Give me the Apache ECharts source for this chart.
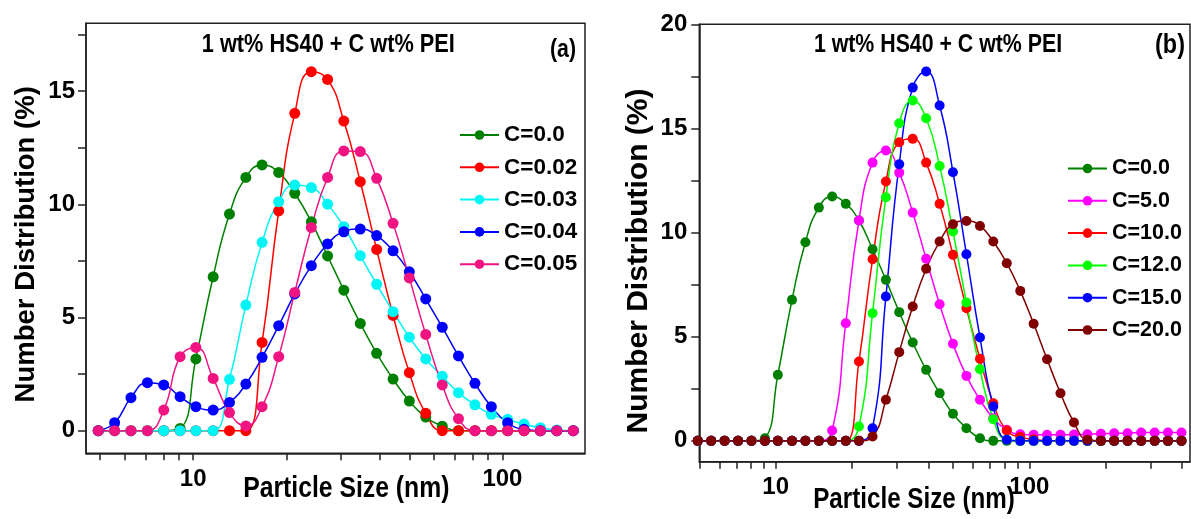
<!DOCTYPE html>
<html><head><meta charset="utf-8">
<script src="https://cdn.jsdelivr.net/npm/echarts@6/dist/echarts.min.js"></script>
<style>html,body{margin:0;padding:0;background:#fff}#c{width:1191px;height:519px}</style>
</head><body><div id="c"></div>
<script>
// Particle size bins (nm)
const sizeBins = [4.93, 5.57, 6.29, 7.11, 8.03, 9.07, 10.2, 11.6, 13.1, 14.8, 16.7, 18.9, 21.3, 24.1, 27.2, 30.7, 34.7, 39.2, 44.3, 50.0, 56.5, 63.9, 72.1, 81.5, 92.1, 104, 117.5, 132.7, 150, 169.5, 191.5, 216, 244, 276, 312, 352, 398];

// Panel (a)
const namesA = ['C=0.0', 'C=0.02', 'C=0.03', 'C=0.04', 'C=0.05'];
const a_C000 = [0, 0, 0, 0, 0, 0.1, 3.17, 6.8, 9.57, 11.19, 11.74, 11.41, 10.49, 9.23, 7.72, 6.21, 4.74, 3.42, 2.28, 1.31, 0.6, 0.2, 0, 0, 0, 0, 0, 0, 0, 0];
const a_C002 = [0, 0, 0, 0, 0, 0, 0, 0, 0, 0, 3.9, 9.71, 14.02, 15.86, 15.52, 13.68, 11.0, 8.01, 5.09, 2.56, 0.77, 0, 0, 0, 0, 0, 0, 0, 0, 0];
const a_C003 = [0, 0, 0, 0, 0, 0, 0, 0, 2.27, 5.55, 8.32, 10.12, 10.85, 10.74, 10.01, 9.01, 7.73, 6.47, 5.26, 4.13, 3.17, 2.4, 1.68, 1.14, 0.72, 0.5, 0.29, 0.13, 0.03, 0];
const a_C004 = [0, 0.35, 1.46, 2.12, 2.02, 1.5, 1.06, 0.91, 1.25, 2.06, 3.24, 4.64, 6.04, 7.29, 8.25, 8.79, 8.91, 8.62, 7.95, 7.02, 5.82, 4.57, 3.3, 2.09, 1.06, 0.35, 0.06, 0, 0, 0];
const a_C005 = [0, 0, 0, 0, 0.91, 3.27, 3.68, 2.31, 0.8, 0.21, 1.06, 3.27, 6.11, 8.98, 11.19, 12.36, 12.33, 11.15, 9.16, 6.75, 4.25, 2.02, 0.53, 0, 0, 0, 0, 0, 0, 0];
const colorsA = ['#008000', '#ff0000', '#00f5f5', '#0000ff', '#f01482'];

// Panel (b)
const namesB = ['C=0.0', 'C=5.0', 'C=10.0', 'C=12.0', 'C=15.0', 'C=20.0'];
const b_C00 = [0, 0, 0, 0, 0, 0.13, 3.17, 6.77, 9.54, 11.2, 11.73, 11.38, 10.58, 9.2, 7.73, 6.18, 4.72, 3.41, 2.29, 1.3, 0.61, 0.13, 0, 0, 0, 0, 0, 0, 0, 0, 0, 0, 0, 0, 0, 0, 0];
const b_C05 = [0, 0, 0, 0, 0, 0, 0, 0, 0, 0, 0.5, 5.65, 10.58, 13.36, 13.94, 12.88, 10.96, 8.74, 6.56, 4.66, 3.12, 1.97, 1.09, 0.53, 0.32, 0.29, 0.29, 0.29, 0.3, 0.32, 0.34, 0.37, 0.37, 0.4, 0.4, 0.4, 0.4];
const b_C10 = [0, 0, 0, 0, 0, 0, 0, 0, 0, 0, 0, 0, 3.81, 8.72, 12.45, 14.34, 14.5, 13.36, 11.38, 8.93, 6.37, 3.94, 1.81, 0.5, 0.18, 0.08, 0, 0, 0, 0, 0, 0, 0, 0, 0, 0, 0];
const b_C12 = [0, 0, 0, 0, 0, 0, 0, 0, 0, 0, 0, 0, 0.69, 6.13, 11.7, 15.25, 16.34, 15.49, 13.2, 10.05, 6.64, 3.44, 1.04, 0.05, 0, 0, 0, 0, 0, 0, 0, 0, 0, 0, 0, 0, 0];
const b_C15 = [0, 0, 0, 0, 0, 0, 0, 0, 0, 0, 0, 0, 0, 0.61, 6.93, 13.28, 16.96, 17.73, 16.1, 12.9, 8.96, 4.96, 1.65, 0.05, 0, 0, 0, 0, 0, 0, 0, 0, 0, 0, 0, 0, 0];
const b_C20 = [0, 0, 0, 0, 0, 0, 0, 0, 0, 0, 0, 0, 0, 0.21, 1.97, 4.26, 6.45, 8.26, 9.57, 10.4, 10.56, 10.32, 9.57, 8.53, 7.2, 5.62, 3.92, 2.29, 0.88, 0.05, 0, 0, 0, 0, 0, 0, 0];
const colorsB = ['#008000', '#ff00ff', '#ff0000', '#00ff00', '#0000ff', '#800000'];

// Axis ticks and labels
const aXTicks = [5, 6, 7, 8, 9, 10, 20, 30, 40, 50, 60, 70, 80, 90, 100];
const bXTicks = [5, 6, 7, 8, 9, 10, 20, 30, 40, 50, 60, 70, 80, 90, 100, 200, 300, 400];
const xLabels = [10, 100];
const aYTicks = [0, 2.5, 5, 7.5, 10, 12.5, 15, 17.5];
const aYLabels = [0, 5, 10, 15];
const bYTicks = [0, 2.5, 5, 7.5, 10, 12.5, 15, 17.5, 20];
const bYLabels = [0, 5, 10, 15, 20];

const titleText = '1 wt% HS40 + C wt% PEI';
const xName = 'Particle Size (nm)';
const yName = 'Number Distribution (%)';

const REG = "'Liberation Sans', Arial, sans-serif";
const AX = '#222';

function mk(name, color, vals, gi, size) {
  return {
    name, type: 'line', xAxisIndex: gi, yAxisIndex: gi,
    data: vals.map((v, i) => [sizeBins[i], v]),
    smooth: 0.5, symbol: 'circle', symbolSize: size, showSymbol: true,
    lineStyle: { color, width: 1.5 }, itemStyle: { color },
    clip: false, animation: false
  };
}

const seriesA = [a_C000, a_C002, a_C003, a_C004, a_C005].map((d, i) => mk(namesA[i], colorsA[i], d, 0, 11));
const seriesB = [b_C00, b_C05, b_C10, b_C12, b_C15, b_C20].map((d, i) => mk(namesB[i], colorsB[i], d, 1, 10));

function xAxis(gi, min, max, ticks) {
  return {
    type: 'log', logBase: 10, gridIndex: gi, min, max,
    axisLine: { show: true, onZero: false, lineStyle: { color: AX, width: 1.5 } },
    axisTick: { show: true, customValues: ticks, length: 7, lineStyle: { color: AX, width: 1.5 } },
    minorTick: { show: false },
    axisLabel: { customValues: xLabels, margin: 14, fontFamily: REG, fontWeight: 'bold', fontSize: 24, color: '#000' },
    splitLine: { show: false }
  };
}
function yAxis(gi, min, max, ticks, labels, nameGap, namePad, nameSize, margin) {
  return {
    type: 'value', gridIndex: gi, min, max,
    axisLine: { show: true, onZero: false, lineStyle: { color: AX, width: 1.5 } },
    axisTick: { show: true, customValues: ticks, length: 8, lineStyle: { color: AX, width: 1.5 } },
    axisLabel: { customValues: labels, margin, fontFamily: REG, fontWeight: 'bold', fontSize: 24, color: '#000' },
    splitLine: { show: false },
    name: yName, nameLocation: 'middle', nameGap, nameMoveOverlap: false,
    nameTextStyle: { fontFamily: REG, fontWeight: 'bold', fontSize: nameSize, color: '#000', lineHeight: nameSize, padding: namePad }
  };
}

function legend(names, left, top, size) {
  return {
    data: names, orient: 'vertical', left, top, padding: 0, itemWidth: 39, itemHeight: 12, itemGap: 2.3,
    selectedMode: false,
    textStyle: { fontFamily: REG, fontWeight: 'bold', fontSize: size, color: '#000', lineHeight: 30 }
  };
}

// condensed-looking bold text (horizontal squeeze like the reference)
function txt(text, x, y, size) {
  return { type: 'text', silent: true, x, y, scaleX: 0.82, scaleY: 1,
    style: { text, x: 0, y: 0, align: 'center', verticalAlign: 'middle', textAlign: 'center', textVerticalAlign: 'middle', fontFamily: REG, fontWeight: 'bold', fontSize: size, fill: '#000' } };
}

const option = {
  animation: false,
  backgroundColor: '#fff',
  grid: [
    { left: 86, top: 23.3, width: 499, height: 430, show: true, borderColor: AX, borderWidth: 1.5, backgroundColor: 'transparent', containLabel: false, outerBoundsMode: 'none' },
    { left: 699.3, top: 24.3, width: 490.7, height: 437.4, show: true, borderColor: AX, borderWidth: 1.5, backgroundColor: 'transparent', containLabel: false, outerBoundsMode: 'none' }
  ],
  xAxis: [
    xAxis(0, 4.5, 185, aXTicks),
    xAxis(1, 5, 430, bXTicks)
  ],
  yAxis: [
    yAxis(0, -1, 18, aYTicks, aYLabels, 46, [0, 12, 0, 0], 27.5, 11),
    yAxis(1, -1, 20, bYTicks, bYLabels, 46, [0, 36, 0, 0], 30, 12)
  ],
  legend: [legend(namesA, 459, 120, 22.5), legend(namesB, 1067, 153.5, 21.5)],
  graphic: [
    txt(titleText, 328.3, 44.5, 26.5),
    txt('(a)', 563, 50, 26),
    txt(titleText, 938, 45, 26),
    txt('(b)', 1170, 45, 28.5),
    txt(xName, 346.3, 489, 30.2),
    txt(xName, 914, 500, 29.5)
  ],
  series: seriesA.concat(seriesB)
};

const chart = echarts.init(document.getElementById('c'), null, { renderer: 'canvas' });
chart.setOption(option);
</script>
</body></html>
